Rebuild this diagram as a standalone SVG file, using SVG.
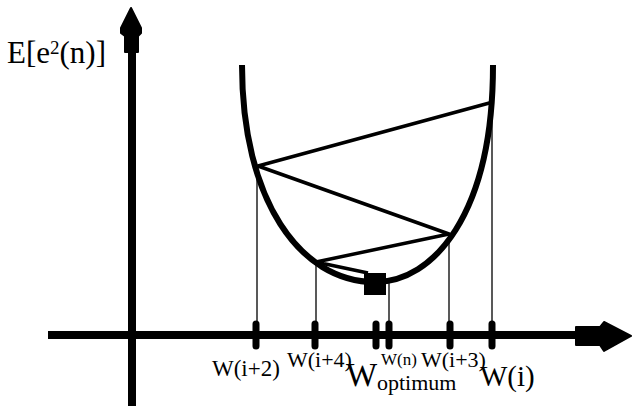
<svg xmlns="http://www.w3.org/2000/svg" width="632" height="408" viewBox="0 0 632 408">
  <style>
    .lbl { font-family: "Liberation Serif", "Times New Roman", serif; fill: #000; }
    .guide { stroke: #222; stroke-width: 1.5; fill: none; }
    .tick { stroke: #000; stroke-width: 7; stroke-linecap: round; }
    .zig { stroke: #000; stroke-width: 3.5; fill: none; stroke-linejoin: round; }
  </style>
  <rect width="632" height="408" fill="#fff"/>

  <g id="axes">
    <line x1="132" y1="48" x2="132" y2="406" stroke="#000" stroke-width="8"/>
    <polygon points="131,8 141,28 141,33 138,36 138,52 125,52 125,36 121,33 121,28" fill="#000" stroke="#000" stroke-width="2" stroke-linejoin="round"/>
    <line x1="48" y1="335" x2="580" y2="335" stroke="#000" stroke-width="8"/>
    <polygon points="576,327 600,327 604,322 631,336 604,351 600,345 576,345" fill="#000" stroke="#000" stroke-width="2" stroke-linejoin="round"/>
  </g>

  <g id="guides">
    <line class="guide" x1="257" y1="166" x2="257" y2="335"/>
    <line class="guide" x1="316" y1="262" x2="316" y2="335"/>
    <line class="guide" x1="389" y1="282" x2="389" y2="335"/>
    <line class="guide" x1="449" y1="234" x2="449" y2="335"/>
    <line class="guide" x1="492" y1="102" x2="492" y2="335"/>
  </g>

  <g id="ticks">
    <line class="tick" x1="256" y1="324" x2="256" y2="346"/>
    <line class="tick" x1="315" y1="324" x2="315" y2="346"/>
    <line class="tick" x1="376" y1="324" x2="376" y2="346"/>
    <line class="tick" x1="389" y1="324" x2="389" y2="346"/>
    <line class="tick" x1="450" y1="324" x2="450" y2="346"/>
    <line class="tick" x1="492" y1="324" x2="492" y2="346"/>
  </g>

  <g id="curve">
    <path d="M242,65 C242,200 300,282 375,282 C433,282 493,215 493,65" fill="none" stroke="#000" stroke-width="6"/>
  </g>

  <g id="connectors">
    <polyline class="zig" points="493,102 258,166 449,234 316,262 368,273"/>
    <rect x="364" y="273" width="22" height="22" fill="#000"/>
  </g>

  <g id="labels">
    <text class="lbl" x="7" y="63" font-size="31">E[e<tspan font-size="19" dy="-9">2</tspan><tspan dy="9">(n)]</tspan></text>
    <text class="lbl" x="212" y="376" font-size="23">W(i+2)</text>
    <text class="lbl" x="287" y="367" font-size="22">W(i+4)</text>
    <text class="lbl" x="381" y="365" font-size="17">W(n)</text>
    <text class="lbl" x="421" y="367" font-size="22">W(i+3)</text>
    <text class="lbl" x="346" y="386" font-size="33">W</text>
    <text class="lbl" x="377" y="390" font-size="22">optimum</text>
    <text class="lbl" x="480" y="386" font-size="29">W(i)</text>
  </g>
</svg>
